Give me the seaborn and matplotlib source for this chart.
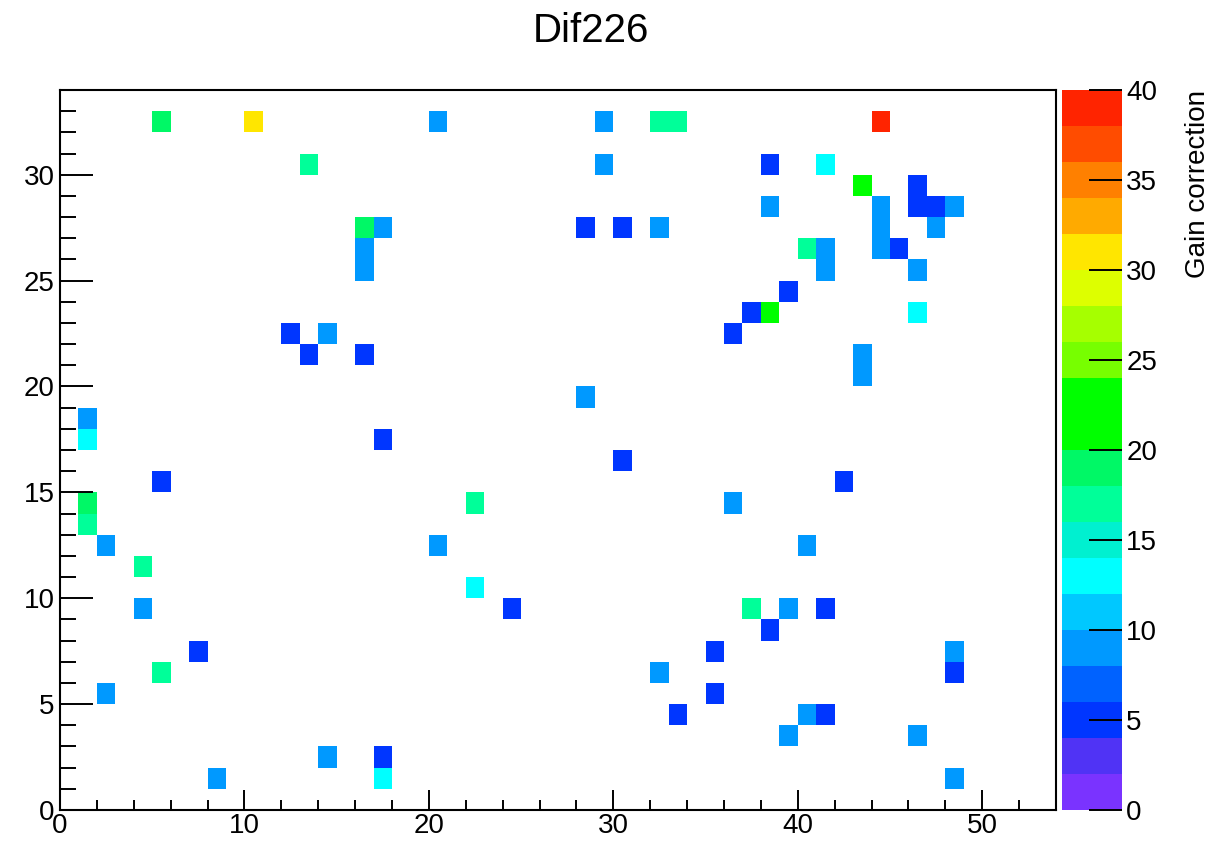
import numpy as np
import pandas as pd
import matplotlib
matplotlib.use("Agg")
import matplotlib.pyplot as plt
from matplotlib.colors import ListedColormap, BoundaryNorm
from matplotlib.ticker import MultipleLocator
import seaborn as sns

# ---- data: occupied cells (x bin, y bin, gain correction value) ----
x_bins = [5, 10, 20, 29, 32, 33, 44,
          13, 29, 38, 41,
          43, 46,
          38, 44, 46, 47, 48,
          16, 17, 28, 30, 32, 44, 47,
          16, 40, 41, 44, 45,
          16, 41, 46,
          39,
          37, 38, 46,
          12, 14, 36,
          13, 16, 43,
          43,
          28,
          1,
          1, 17,
          30,
          5, 42,
          1, 22, 36,
          1,
          2, 20, 40,
          4,
          22,
          4, 24, 37, 39, 41,
          38,
          7, 35, 48,
          5, 32, 48,
          2, 35,
          33, 40, 41,
          39, 46,
          14, 17,
          8, 17, 48]
y_bins = [32, 32, 32, 32, 32, 32, 32,
          30, 30, 30, 30,
          29, 29,
          28, 28, 28, 28, 28,
          27, 27, 27, 27, 27, 27, 27,
          26, 26, 26, 26, 26,
          25, 25, 25,
          24,
          23, 23, 23,
          22, 22, 22,
          21, 21, 21,
          20,
          19,
          18,
          17, 17,
          16,
          15, 15,
          14, 14, 14,
          13,
          12, 12, 12,
          11,
          10,
          9, 9, 9, 9, 9,
          8,
          7, 7, 7,
          6, 6, 6,
          5, 5,
          4, 4, 4,
          3, 3,
          2, 2,
          1, 1, 1]
gain = [18.9, 30.8, 9.1, 9.2, 17.1, 17.0, 39.2,
        17.2, 9.0, 5.1, 13.0,
        21.5, 5.0,
        9.1, 9.3, 5.2, 5.1, 9.0,
        18.8, 9.2, 5.0, 5.2, 9.1, 9.0, 9.2,
        9.1, 17.3, 9.0, 9.2, 5.1,
        9.0, 9.1, 9.3,
        5.2,
        5.0, 21.2, 13.1,
        5.1, 9.2, 5.0,
        5.1, 5.2, 9.0,
        9.1,
        9.2,
        9.0,
        13.2, 5.1,
        5.0,
        5.2, 5.1,
        19.0, 17.1, 9.1,
        17.0,
        9.2, 9.0, 9.1,
        17.2,
        13.0,
        9.1, 5.0, 17.1, 9.2, 5.1,
        5.2,
        5.0, 5.1, 9.3,
        17.0, 9.1, 5.2,
        9.0, 5.1,
        5.0, 9.2, 5.1,
        9.0, 9.1,
        9.2, 5.0,
        9.1, 13.1, 9.0]

n_x = 54
n_y = 34
band_edges = list(range(0, 42, 2))
band_colors = ["#7a33ff", "#5033f5", "#0036ff", "#0062ff", "#0099ff",
               "#00c8ff", "#00ffff", "#00f0d0", "#00ff99", "#00f866",
               "#00ff00", "#00ff00", "#77ff00", "#a6ff00", "#ddff00",
               "#ffe600", "#ffaa00", "#ff8000", "#ff4c00", "#ff2400"]

# ---- build the grid ----
grid = np.full((n_y, n_x), np.nan)
for xb, yb, g in zip(x_bins, y_bins, gain):
    grid[yb, xb] = g
df = pd.DataFrame(grid, index=range(n_y), columns=range(n_x))

cmap = ListedColormap(band_colors)
norm = BoundaryNorm(band_edges, cmap.N)

W, H = 1220, 842
fig = plt.figure(figsize=(W / 100, H / 100), dpi=100)
plt.rcParams['font.family'] = ['Liberation Sans', 'DejaVu Sans']

ax = fig.add_axes([60 / W, (H - 810) / H, (1056 - 60) / W, 720 / H])
cax = fig.add_axes([1062 / W, (H - 810) / H, 60 / W, 720 / H])

sns.heatmap(df, ax=ax, cbar_ax=cax, cmap=cmap, norm=norm,
            vmin=0, vmax=40, xticklabels=False, yticklabels=False)

ax.set_xlim(0, n_x)
ax.set_ylim(0, n_y)
for s in ax.spines.values():
    s.set_visible(True)
    s.set_color("black")
    s.set_linewidth(1.5)

xt = np.arange(0, 51, 10)
yt = np.arange(0, 31, 5)
ax.set_xticks(xt, labels=[str(v) for v in xt])
ax.set_yticks(yt, labels=[str(v) for v in yt], rotation=0)
ax.xaxis.set_minor_locator(MultipleLocator(2))
ax.yaxis.set_minor_locator(MultipleLocator(1))
ax.tick_params(axis="x", which="major", direction="in", length=14.4, width=1.4,
               labelsize=20, pad=2, top=False)
ax.tick_params(axis="x", which="minor", direction="in", length=7.2, width=1.4, top=False)
ax.tick_params(axis="y", which="major", direction="in", length=23.8, width=1.4,
               labelsize=20, pad=4, right=False)
ax.tick_params(axis="y", which="minor", direction="in", length=11.5, width=1.4, right=False)
ax.set_xlabel("")
ax.set_ylabel("")

cbar = ax.collections[0].colorbar
cbar.outline.set_visible(False)
cbar.set_ticks(np.arange(0, 41, 5))
cbar.ax.minorticks_off()
cax.tick_params(which="major", direction="in", length=23.8, width=1.4,
                labelsize=20, pad=3)
cax.set_ylabel("Gain correction", fontsize=20, loc="top", labelpad=20)

fig.text(591 / W, 1 - 31 / H, "Dif226", ha="center", va="center", fontsize=29)

fig.savefig("out.png", dpi=100, facecolor="white")
